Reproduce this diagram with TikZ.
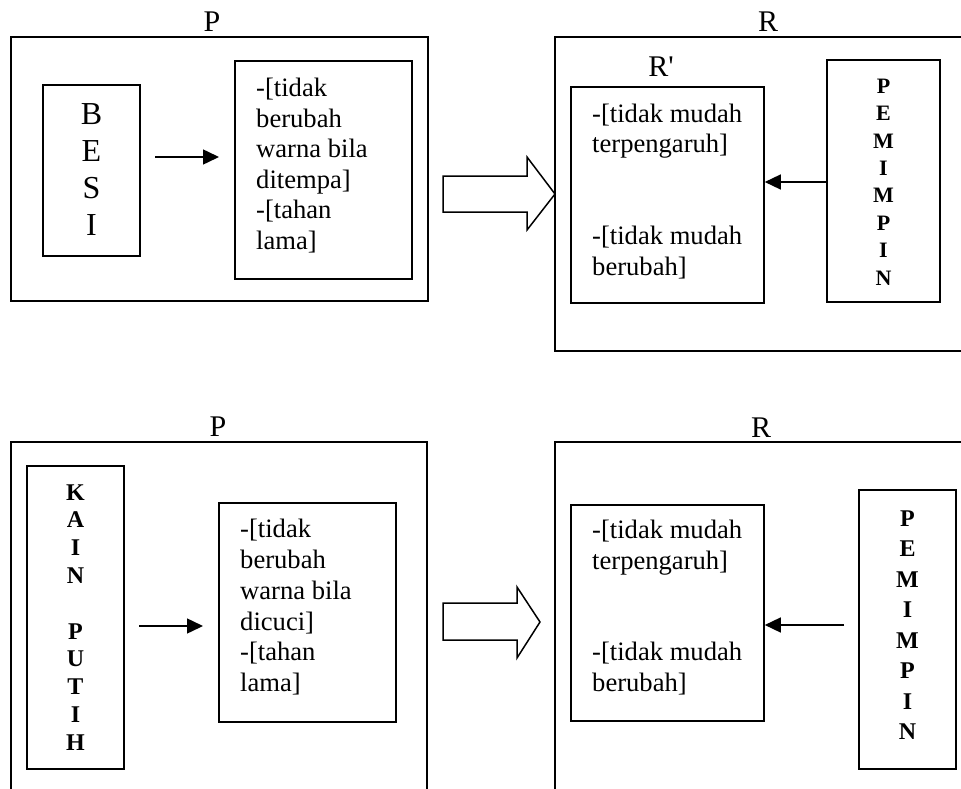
\documentclass[tikz,border=0pt]{standalone}
\usepackage{fontspec}
\setmainfont{Liberation Serif}
\usetikzlibrary{arrows.meta,fit}
\begin{document}
\begin{tikzpicture}[x=1pt,y=-1pt,
  box/.style={draw, line width=1.6pt, inner sep=0pt},
  bodytext/.style={font=\fontsize{26.6}{30}\selectfont, anchor=base west, inner sep=0pt},
  bigletter/.style={font=\fontsize{32}{36}\selectfont, anchor=base, inner sep=0pt},
  boldletter/.style={font=\bfseries\fontsize{#1}{26}\selectfont, anchor=base, inner sep=0pt},
  boxtitle/.style={font=\fontsize{30}{34}\selectfont, anchor=base, inner sep=0pt},
  linkarrow/.style={line width=1.5pt, -{Triangle[length=16pt,width=15pt]}},
  hollow/.style={draw, line width=1.5pt, fill=white, line join=miter}]
\useasboundingbox (0,0) rectangle (961,789);
\clip (0,0) rectangle (961,789);

% ---------- upper row: BESI ----------
\node[box, fit={(11,37) (428,301)}] (p1) {};
\node[boxtitle] (p1t) at (212,32) {P};
\node[box, fit={(43,85) (140,256)}] (besi) {};
\foreach \t [count=\i] in {B,E,S,I}
  \node[bigletter] (besi\i) at (91.5,{125+36.7*(\i-1)}) {\t};
\node[box, fit={(235,61) (412,279)}] (pt1) {};
\foreach \t [count=\i] in {-[tidak, berubah, warna bila, ditempa], -[tahan, lama]}
  \node[bodytext] (pa\i) at (256,{97+30.4*(\i-1)}) {\t};
\coordinate (a1s) at (155,157);
\coordinate (a1e) at (219,157);
\draw[linkarrow] (a1s) -- (a1e);

\draw[hollow] (443,176) -- (527,176) -- (527,157) -- (555,194)
  -- (527,230) -- (527,212) -- (443,212) -- cycle;

\node[box, fit={(555,37) (1000,351)}] (r1) {};
\node[boxtitle] (r1t) at (768,32) {R};
\node[boxtitle] (rp1t) at (661,77) {R\textquotesingle};
\node[box, fit={(571,87) (764,303)}] (rp1) {};
\foreach \t/\yy [count=\i] in {-[tidak mudah/122.3, terpengaruh]/152.3, -[tidak mudah/244, berubah]/275}
  \node[bodytext] (ra\i) at (592,\yy) {\t};
\node[box, fit={(827,60) (940,302)}] (pem1) {};
\foreach \t [count=\i] in {P,E,M,I,M,P,I,N}
  \node[boldletter=22] (pemA\i) at (883.5,{93.3+27.4*(\i-1)}) {\t};
\coordinate (c1) at (827,182);
\draw[linkarrow] (c1) -- (c1 -| rp1.east);

% ---------- lower row: KAIN PUTIH ----------
\node[box, fit={(11,442) (427,820)}] (p2) {};
\node[boxtitle] (p2t) at (218,436) {P};
\node[box, fit={(27,466) (124,769)}] (kain) {};
\foreach \t/\k in {K/0,A/1,I/2,N/3,P/5,U/6,T/7,I/8,H/9}
  \node[boldletter=24] (kain\k) at (75.5,{500+27.8*\k}) {\t};
\node[box, fit={(219,503) (396,722)}] (pt2) {};
\foreach \t [count=\i] in {-[tidak, berubah, warna bila, dicuci], -[tahan, lama]}
  \node[bodytext] (pb\i) at (240,{537.3+30.9*(\i-1)}) {\t};
\coordinate (a2s) at (139,626);
\coordinate (a2e) at (203,626);
\draw[linkarrow] (a2s) -- (a2e);

\draw[hollow] (443,603) -- (517,603) -- (517,587) -- (540,622)
  -- (517,658) -- (517,640) -- (443,640) -- cycle;

\node[box, fit={(555,442) (1000,820)}] (r2) {};
\node[boxtitle] (r2t) at (761,437) {R};
\node[box, fit={(571,505) (764,721)}] (rp2) {};
\foreach \t/\yy [count=\i] in {-[tidak mudah/538.3, terpengaruh]/569, -[tidak mudah/660.7, berubah]/691}
  \node[bodytext] (rb\i) at (592,\yy) {\t};
\node[box, fit={(859,490) (956,769)}] (pem2) {};
\foreach \t [count=\i] in {P,E,M,I,M,P,I,N}
  \node[boldletter=24] (pemB\i) at (907.5,{526+30.5*(\i-1)}) {\t};
\coordinate (c2) at (844,625);
\draw[linkarrow] (c2) -- (c2 -| rp2.east);
\end{tikzpicture}
\end{document}
